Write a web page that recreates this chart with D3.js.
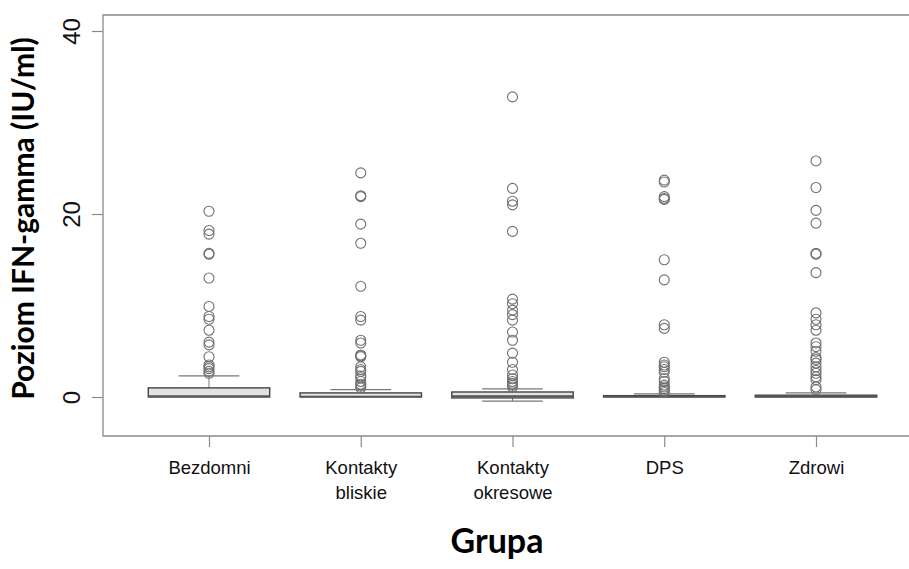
<!DOCTYPE html>
<html>
<head>
<meta charset="utf-8">
<script src="https://cdn.jsdelivr.net/npm/d3@7"></script>
<style>
  html, body { margin: 0; padding: 0; background: #fff; overflow: hidden; }
  svg { display: block; }
</style>
</head>
<body>
<svg id="chart" width="909" height="569"></svg>
<script>
// Groups and box statistics (IU/ml)
const categories = ["Bezdomni", "Kontakty bliskie", "Kontakty okresowe", "DPS", "Zdrowi"];
const whiskerLow  = [0, 0, -0.45, 0, 0];
const q1          = [0, 0, -0.1, 0, 0];
const median      = [0.1, 0.05, 0.1, 0.05, 0.05];
const q3          = [1.0, 0.45, 0.55, 0.15, 0.2];
const whiskerHigh = [2.3, 0.8, 0.9, 0.35, 0.45];

// Outlying observations per group
const outBezdomni = [20.3, 18.2, 17.8, 15.7, 15.6, 13.0, 9.9, 8.8, 8.5, 7.3, 6.0, 5.7, 4.4, 3.5, 3.3, 3.1, 2.8, 2.6];
const outBliskie  = [24.5, 22.0, 21.9, 18.9, 16.8, 12.1, 8.8, 8.4, 6.2, 5.9, 4.6, 4.5, 4.4, 3.3, 3.0, 2.8, 2.3, 2.1, 1.7, 1.4, 1.2, 1.0];
const outOkresowe = [32.8, 22.8, 21.4, 21.0, 18.1, 10.7, 10.2, 9.5, 9.0, 8.4, 7.1, 6.2, 4.8, 3.8, 3.0, 2.4, 2.0, 1.7, 1.5, 1.3, 1.1];
const outDPS      = [23.7, 23.5, 21.9, 21.7, 21.6, 15.0, 12.8, 7.9, 7.5, 3.8, 3.5, 3.3, 3.0, 2.7, 2.0, 1.7, 1.3, 1.1, 0.9, 0.7, 0.5];
const outZdrowi   = [25.8, 22.9, 20.4, 19.0, 15.7, 15.6, 13.6, 9.2, 8.5, 7.9, 7.3, 5.9, 5.5, 5.0, 4.3, 4.1, 3.7, 3.3, 2.9, 2.6, 2.2, 1.9, 1.1, 0.8];
const outliers = [outBezdomni, outBliskie, outOkresowe, outDPS, outZdrowi];

const yTicks = [0, 20, 40];
const yTitle = "Poziom IFN-gamma (IU/ml)";
const xTitle = "Grupa";

const svg = d3.select("#chart");
const plot = { left: 103, top: 15, right: 909, bottom: 436 };

const y = d3.scaleLinear().domain([-4.26, 41.75]).range([plot.bottom, plot.top]);
const x = d3.scalePoint().domain(categories).range([209, 816]);
const boxW = 0.8 * x.step();

// plot frame: left, top and bottom sides (the right side lies beyond the canvas)
svg.append("path")
  .attr("d", `M${plot.right},${plot.top}H${plot.left}V${plot.bottom}H${plot.right}`)
  .attr("fill", "none").attr("stroke", "#8a8a8a").attr("stroke-width", 1.3);

// y axis
const yAxis = svg.append("g")
  .attr("transform", `translate(${plot.left},0)`)
  .call(d3.axisLeft(y).tickValues(yTicks).tickSize(11).tickFormat(d3.format("d")));
yAxis.select(".domain").remove();
yAxis.selectAll(".tick line").attr("stroke", "#8a8a8a").attr("stroke-width", 1.2);
yAxis.selectAll(".tick text")
  .attr("x", null).attr("dy", null)
  .attr("transform", "translate(-23,0) rotate(-90)")
  .attr("text-anchor", "middle")
  .attr("font-family", "'Liberation Sans', Arial, sans-serif")
  .attr("font-size", 24).attr("fill", "#111");

// x axis
const xAxis = svg.append("g")
  .attr("transform", `translate(0,${plot.bottom})`)
  .call(d3.axisBottom(x).tickSize(11).tickFormat(""));
xAxis.select(".domain").remove();
xAxis.selectAll(".tick line").attr("stroke", "#8a8a8a").attr("stroke-width", 1.2);
xAxis.selectAll(".tick").each(function(d) {
  const words = d.split(" ");
  const t = d3.select(this).append("text")
    .attr("text-anchor", "middle")
    .attr("font-family", "'Liberation Sans', Arial, sans-serif")
    .attr("font-size", 18.5).attr("fill", "#111");
  words.forEach((w, i) => {
    t.append("tspan").attr("x", 0).attr("y", 38 + i * 25).text(w);
  });
});

// boxes
const groups = svg.append("g").selectAll("g")
  .data(categories.map((c, i) => ({
    c, lo: whiskerLow[i], q1: q1[i], med: median[i], q3: q3[i], hi: whiskerHigh[i], out: outliers[i]
  })))
  .join("g")
  .attr("transform", d => `translate(${x(d.c)},0)`);

// whiskers
groups.append("line")
  .attr("x1", 0).attr("x2", 0)
  .attr("y1", d => y(d.q3)).attr("y2", d => y(d.hi))
  .attr("stroke", "#777").attr("stroke-width", 1);
groups.append("line")
  .attr("x1", 0).attr("x2", 0)
  .attr("y1", d => y(d.q1)).attr("y2", d => y(d.lo))
  .attr("stroke", "#777").attr("stroke-width", 1);
groups.append("line")
  .attr("x1", -boxW / 4).attr("x2", boxW / 4)
  .attr("y1", d => y(d.hi)).attr("y2", d => y(d.hi))
  .attr("stroke", "#777").attr("stroke-width", 1.2);
groups.filter(d => d.lo < d.q1).append("line")
  .attr("x1", -boxW / 4).attr("x2", boxW / 4)
  .attr("y1", d => y(d.lo)).attr("y2", d => y(d.lo))
  .attr("stroke", "#777").attr("stroke-width", 1.2);

groups.append("rect")
  .attr("x", -boxW / 2).attr("width", boxW)
  .attr("y", d => y(d.q3))
  .attr("height", d => Math.max(1, y(d.q1) - y(d.q3)))
  .attr("fill", "#e2e2e2").attr("stroke", "#444").attr("stroke-width", 1.4);
groups.append("line")
  .attr("x1", -boxW / 2).attr("x2", boxW / 2)
  .attr("y1", d => y(d.med)).attr("y2", d => y(d.med))
  .attr("stroke", "#555").attr("stroke-width", 1.6);

// outliers
groups.selectAll("circle")
  .data(d => d.out)
  .join("circle")
  .attr("cx", 0).attr("cy", v => y(v)).attr("r", 5)
  .attr("fill", "none").attr("stroke", "#707070").attr("stroke-width", 1.1);

// axis titles
svg.append("text")
  .attr("transform", `translate(34,${(plot.top + plot.bottom) / 2 - 7}) rotate(-90)`)
  .attr("text-anchor", "middle")
  .attr("font-family", "Lato, 'Open Sans', sans-serif")
  .attr("font-weight", "bold").attr("font-size", 30).attr("fill", "#000")
  .text(yTitle);
svg.append("text")
  .attr("x", 497).attr("y", 553)
  .attr("text-anchor", "middle")
  .attr("font-family", "Lato, 'Open Sans', sans-serif")
  .attr("font-weight", "bold").attr("font-size", 34).attr("fill", "#000")
  .text(xTitle);
</script>
</body>
</html>
